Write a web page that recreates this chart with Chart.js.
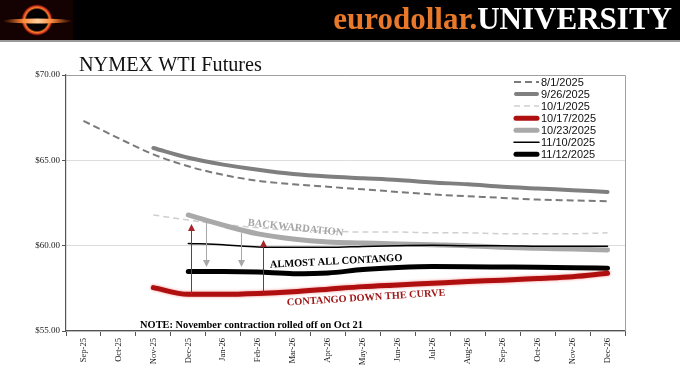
<!DOCTYPE html>
<html><head><meta charset="utf-8">
<script src="https://cdn.jsdelivr.net/npm/chart.js@4.4.1/dist/chart.umd.min.js"></script>
<style>html,body{margin:0;padding:0;background:#fff;}#wrap{width:680px;height:383px;position:relative;}</style>
</head><body><div id="wrap"><canvas id="c" width="680" height="383"></canvas></div>
<script>
const categories = ["Sep-25","Oct-25","Nov-25","Dec-25","Jan-26","Feb-26","Mar-26","Apr-26","May-26","Jun-26","Jul-26","Aug-26","Sep-26","Oct-26","Nov-26","Dec-26"];
const s0801 = [67.31,66.30,65.35,64.65,64.15,63.80,63.60,63.45,63.30,63.15,63.00,62.90,62.80,62.70,62.65,62.60];
const s0926 = [null,null,65.72,65.15,64.75,64.45,64.20,64.05,63.95,63.85,63.70,63.60,63.45,63.35,63.25,63.15];
const s1001 = [null,null,61.80,61.50,61.25,61.05,60.90,60.85,60.80,60.80,60.75,60.75,60.70,60.70,60.70,60.75];
const s1017 = [null,null,57.54,57.15,57.15,57.20,57.30,57.45,57.60,57.70,57.80,57.90,57.98,58.08,58.18,58.38];
const s1023 = [null,null,null,61.80,61.20,60.69,60.39,60.22,60.16,60.10,60.05,60.00,59.90,59.85,59.80,59.75];
const s1110 = [null,null,null,60.13,60.05,59.92,59.90,59.90,59.95,60.00,60.02,60.00,60.00,59.97,59.96,59.96];
const s1112 = [null,null,null,58.48,58.48,58.45,58.36,58.40,58.60,58.72,58.78,58.77,58.75,58.73,58.70,58.68];
const seriesNames = ["8/1/2025","9/26/2025","10/1/2025","10/17/2025","10/23/2025","11/10/2025","11/12/2025"];
const yTicks = [55,60,65,70];
// arrows: [categoryIndex, fromValue, toValue]
const redArrows = [[3.08,57.15,61.27],[5.14,57.20,60.33]];
const greyArrows = [[3.51,61.50,58.75],[4.50,60.74,58.75]];
// text notes: [text, categoryIndex, value, angleDeg, color, targetWidth]
const notes = [
  ["BACKWARDATION",6.07,61.04,6.2,"#a6a6a6",96],
  ["ALMOST ALL CONTANGO",7.23,59.07,-3.0,"#000000",133],
  ["CONTANGO DOWN THE CURVE",8.09,56.94,-3.6,"#a01818",159],
  ["NOTE: November contraction rolled off on Oct 21",4.81,55.35,0,"#000000",223]
];

const SERIF = "'Liberation Serif','Times New Roman',serif";
const SANS = "'Liberation Sans',Arial,sans-serif";

const styles = [
  {c:"#7a7a7a",w:2,d:[7,4],o:7},
  {c:"#7f7f7f",w:4,d:[],o:6},
  {c:"#cfcfcf",w:1.5,d:[6,4],o:5},
  {c:"#b00f0f",w:5,d:[],o:1},
  {c:"#a9a9a9",w:5,d:[],o:4},
  {c:"#000000",w:1.5,d:[],o:3},
  {c:"#000000",w:5,d:[],o:2}
];
const allSeries = [s0801,s0926,s1001,s1017,s1023,s1110,s1112];
const datasets = allSeries.map((s,i)=>({
  label: seriesNames[i], data: s, borderColor: styles[i].c, borderWidth: styles[i].w,
  borderDash: styles[i].d, pointRadius: 0, fill:false, cubicInterpolationMode:'monotone',
  spanGaps:false, order: styles[i].o, borderCapStyle: styles[i].d.length? 'butt':'round'
}));

function fitFont(ctx, text, weight, family, target){
  ctx.font = weight+" 10px "+family;
  const w = ctx.measureText(text).width;
  return 10*target/w;
}

const deco = {
  id:'deco',
  beforeDraw(chart){
    const ctx = chart.ctx;
    ctx.save();
    ctx.fillStyle="#fff"; ctx.fillRect(0,0,680,383);
    ctx.fillStyle="#000"; ctx.fillRect(0,0,680,40);
    ctx.fillStyle="#9a9a9a"; ctx.fillRect(0,40,680,2);
    // logo
    ctx.fillStyle="#140202"; ctx.fillRect(0,0,73,40);
    const g = ctx.createRadialGradient(37,20,4,37,20,16);
    g.addColorStop(0,"#000"); g.addColorStop(0.55,"#000"); g.addColorStop(0.7,"#ff7a2a"); g.addColorStop(0.85,"#c0301a"); g.addColorStop(1,"rgba(80,0,0,0)");
    ctx.fillStyle=g; ctx.beginPath(); ctx.arc(37,20,16,0,Math.PI*2); ctx.fill();
    ctx.fillStyle="#000"; ctx.beginPath(); ctx.arc(37,20,8,0,Math.PI*2); ctx.fill();
    const g2 = ctx.createLinearGradient(3,0,72,0);
    g2.addColorStop(0,"rgba(255,120,40,0)"); g2.addColorStop(0.3,"#ff8a3a"); g2.addColorStop(0.5,"#ffd0a0"); g2.addColorStop(0.7,"#ff8a3a"); g2.addColorStop(1,"rgba(255,120,40,0)");
    ctx.fillStyle=g2; ctx.beginPath(); ctx.ellipse(37,21,35,2.5,0,0,Math.PI*2); ctx.fill();
    // banner text
    const t1="eurodollar.", t2="UNIVERSITY";
    const fs = fitFont(ctx,t1+t2,"bold",SERIF,339);
    ctx.font="bold "+fs+"px "+SERIF; ctx.textBaseline="alphabetic"; ctx.textAlign="left";
    const w2 = ctx.measureText(t2).width, w1=ctx.measureText(t1).width;
    ctx.fillStyle="#ffffff"; ctx.fillText(t2,672-w2,29);
    ctx.fillStyle="#e8782a"; ctx.fillText(t1,672-w2-w1,29);
    // title
    const ft = fitFont(ctx,"NYMEX WTI Futures","normal",SERIF,183);
    ctx.font=ft+"px "+SERIF; ctx.fillStyle="#111"; ctx.fillText("NYMEX WTI Futures",79,71);
    ctx.restore();
  },
  beforeDatasetDraw(chart,args){
    const ctx=chart.ctx;
    if(args.index===3){ctx.save(); ctx.shadowColor="rgba(220,0,0,0.45)"; ctx.shadowBlur=3;}
  },
  afterDatasetDraw(chart,args){
    if(args.index===3){chart.ctx.restore();}
  },
  afterDatasetsDraw(chart){
    const ctx=chart.ctx, x=chart.scales.x, y=chart.scales.y, a=chart.chartArea;
    ctx.save();
    // frame
    ctx.strokeStyle="#a0a0a0"; ctx.lineWidth=1;
    ctx.beginPath(); ctx.moveTo(a.left,a.top+0.5); ctx.lineTo(a.right+0.5,a.top+0.5); ctx.lineTo(a.right+0.5,a.bottom); ctx.stroke();
    // arrows
    function arrow(arr,color){
      arr.forEach(([i,v0,v1])=>{
        const px=Math.round(x.getPixelForValue(i))+0.5, p0=y.getPixelForValue(v0), p1=y.getPixelForValue(v1);
        const dir = p1<p0?1:-1;
        ctx.strokeStyle=color; ctx.fillStyle=color; ctx.lineWidth=1;
        ctx.beginPath(); ctx.moveTo(px,p0); ctx.lineTo(px,p1+dir*5); ctx.stroke();
        ctx.beginPath(); ctx.moveTo(px,p1); ctx.lineTo(px-3.5,p1+dir*7); ctx.lineTo(px+3.5,p1+dir*7); ctx.closePath(); ctx.fill();
      });
    }
    arrow(redArrows,"#a3262a");
    arrow(greyArrows,"#a8a8a8");
    // notes
    notes.forEach(([t,i,v,ang,col,tw])=>{
      const fs=fitFont(ctx,t,"bold",SERIF,tw);
      ctx.save();
      ctx.translate(x.getPixelForValue(i),y.getPixelForValue(v));
      ctx.rotate(ang*Math.PI/180);
      ctx.font="bold "+fs+"px "+SERIF; ctx.fillStyle=col; ctx.textAlign="center"; ctx.textBaseline="middle";
      ctx.fillText(t,0,0);
      ctx.restore();
    });
    // legend
    ctx.font="11px "+SANS; ctx.textBaseline="middle"; ctx.textAlign="left";
    chart.data.datasets.forEach((ds,k)=>{
      const yy=82+k*12.05;
      ctx.strokeStyle=ds.borderColor; ctx.lineWidth=ds.borderWidth; ctx.setLineDash(ds.borderDash||[]);
      ctx.lineCap = (ds.borderDash&&ds.borderDash.length)?'butt':'round';
      ctx.beginPath(); ctx.moveTo(514+(ds.borderWidth>3?2:0),yy); ctx.lineTo(539-(ds.borderWidth>3?2:0),yy); ctx.stroke();
      ctx.setLineDash([]);
      ctx.fillStyle="#111"; ctx.fillText(ds.label,541,yy+0.5);
    });
    ctx.restore();
  }
};

new Chart(document.getElementById('c'),{
  type:'line',
  data:{labels:categories,datasets},
  options:{
    responsive:false, animation:false, devicePixelRatio:1,
    layout:{padding:{top:75,right:55,left:0,bottom:0}},
    plugins:{legend:{display:false},tooltip:{enabled:false},title:{display:false}},
    scales:{
      x:{type:'category',offset:true,
        grid:{offset:true,drawOnChartArea:false,drawTicks:true,tickLength:5,color:"#555",tickColor:"#555"},
        border:{color:"#555",width:1.2},
        ticks:{minRotation:90,maxRotation:90,padding:2,autoSkip:false,font:{family:SERIF,size:8.6},color:"#1a1a1a"},
        afterFit(s){s.height=52;}
      },
      y:{min:55,max:70,
        afterBuildTicks(s){s.ticks=yTicks.map(v=>({value:v}));},
        grid:{color:"#dddddd",tickLength:4,tickColor:"#555"},
        border:{color:"#555",width:1.2},
        ticks:{padding:2,font:{family:SERIF,size:9},color:"#222",callback:v=>"$"+Number(v).toFixed(2)},
        afterFit(s){s.width=66;}
      }
    }
  },
  plugins:[deco]
});
</script></body></html>
